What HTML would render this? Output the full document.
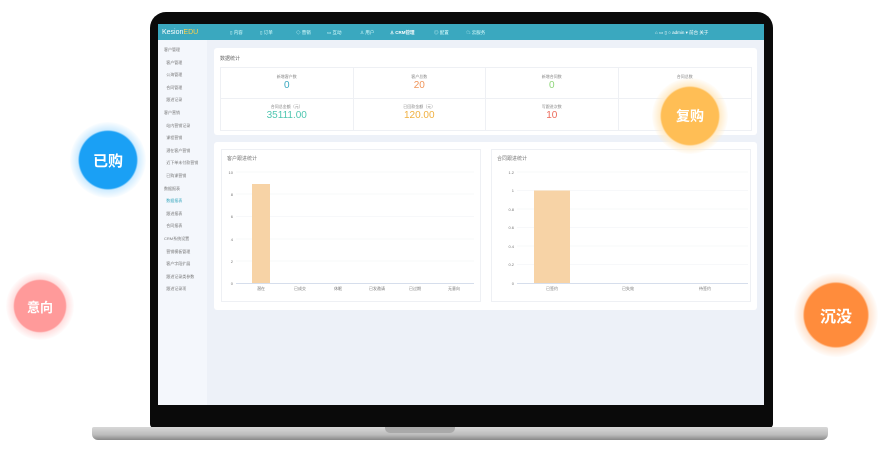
<!DOCTYPE html><html><head><meta charset="utf-8"><style>
*{margin:0;padding:0;box-sizing:border-box}
body{width:892px;height:452px;background:#fff;position:relative;overflow:hidden;font-family:"Liberation Sans","Noto Sans CJK SC",sans-serif}
.a{position:absolute}
.t{font-size:4px;color:#888;white-space:nowrap}
.n{position:absolute;top:30px;font-size:4.5px;color:#dff;white-space:nowrap}
.bub{position:absolute;border-radius:50%;color:#fff;font-weight:bold;display:flex;align-items:center;justify-content:center}
</style></head><body>
<div class="a" style="left:150px;top:12px;width:623px;height:416px;background:#0a0a0a;border-radius:16px 16px 4px 4px"></div>
<div class="a" style="left:158px;top:24px;width:606px;height:381px;background:#edf1f8"></div>
<div class="a" style="left:158px;top:24px;width:606px;height:16px;background:#3aa8bf"></div>
<div class="a" style="left:162px;top:29px;font-size:7px;color:#fff">Kesion<span style="color:#ffd24a">EDU</span></div>
<div class="n" style="left:230px">▯ 内容</div><div class="n" style="left:260px">▯ 订单</div><div class="n" style="left:296px">◇ 营销</div><div class="n" style="left:327px">▭ 互动</div><div class="n" style="left:360px">♙ 用户</div><div class="n" style="left:390px;color:#fff;font-weight:bold">♙ CRM管理</div><div class="n" style="left:434px">◎ 配置</div><div class="n" style="left:466px">☁ 云服务</div>
<div class="a t" style="left:655px;top:30px;color:#fff;font-size:4.5px">⌂ ▭ ▯ ○ admin ▾ 前台 关于</div>
<div class="a" style="left:158px;top:40px;width:49px;height:365px;background:#f4f7fc"></div>
<div class="a" style="left:164px;top:44px;font-size:4px;color:#777;line-height:12.6px">客户管理<br>&nbsp;&nbsp;客户管理<br>&nbsp;&nbsp;公海管理<br>&nbsp;&nbsp;合同管理<br>&nbsp;&nbsp;跟进记录<br>客户营销<br>&nbsp;&nbsp;站内营销记录<br>&nbsp;&nbsp;课程营销<br>&nbsp;&nbsp;潜在客户营销<br>&nbsp;&nbsp;近下单未付款营销<br>&nbsp;&nbsp;已购课营销<br>数据报表<br>&nbsp;&nbsp;<span style="color:#3aa8bf">数据报表</span><br>&nbsp;&nbsp;跟进报表<br>&nbsp;&nbsp;合同报表<br>CRM系统设置<br>&nbsp;&nbsp;营销模板管理<br>&nbsp;&nbsp;客户字段扩展<br>&nbsp;&nbsp;跟进记录类参数<br>&nbsp;&nbsp;跟进记录项</div>
<div class="a" style="left:214px;top:48px;width:543px;height:87px;background:#fff;border-radius:3px"></div>
<div class="a t" style="left:220px;top:55px;font-size:5px;color:#666">数据统计</div>
<div class="a" style="left:220px;top:67px;width:532px;height:64px;border:1px solid #eef0f4;display:grid;grid-template-columns:repeat(4,1fr);grid-template-rows:1fr 1fr">
<div style="text-align:center;border-right:1px solid #eef0f4;border-bottom:1px solid #eef0f4"><div class="t" style="margin-top:6px">新增客户数</div><div style="font-size:10px;color:#3aa8bf">0</div></div>
<div style="text-align:center;border-right:1px solid #eef0f4;border-bottom:1px solid #eef0f4"><div class="t" style="margin-top:6px">客户总数</div><div style="font-size:10px;color:#f0955a">20</div></div>
<div style="text-align:center;border-right:1px solid #eef0f4;border-bottom:1px solid #eef0f4"><div class="t" style="margin-top:6px">新增合同数</div><div style="font-size:10px;color:#8fd67a">0</div></div>
<div style="text-align:center;border-bottom:1px solid #eef0f4"><div class="t" style="margin-top:6px">合同总数</div></div>
<div style="text-align:center;border-right:1px solid #eef0f4"><div class="t" style="margin-top:5px">合同总金额（元）</div><div style="font-size:10px;color:#4fc6b0">35111.00</div></div>
<div style="text-align:center;border-right:1px solid #eef0f4"><div class="t" style="margin-top:5px">已回款金额（元）</div><div style="font-size:10px;color:#f0b040">120.00</div></div>
<div style="text-align:center;border-right:1px solid #eef0f4"><div class="t" style="margin-top:5px">写跟进次数</div><div style="font-size:10px;color:#ec6a5a">10</div></div>
<div></div></div>
<div class="a" style="left:214px;top:142px;width:543px;height:168px;background:#fff;border-radius:3px"></div>
<svg class="a" style="left:0;top:0" width="892" height="452">
<g fill="none" stroke="#eef0f4"><rect x="221.5" y="149.5" width="259" height="152"/><rect x="491.5" y="149.5" width="259" height="152"/></g>
<g stroke="#f0f2f6" stroke-width="0.6">
<line x1="236" x2="474" y1="172" y2="172"/><line x1="236" x2="474" y1="194" y2="194"/><line x1="236" x2="474" y1="216.5" y2="216.5"/><line x1="236" x2="474" y1="239" y2="239"/><line x1="236" x2="474" y1="261" y2="261"/>
<line x1="517" x2="748" y1="172" y2="172"/><line x1="517" x2="748" y1="190.5" y2="190.5"/><line x1="517" x2="748" y1="209" y2="209"/><line x1="517" x2="748" y1="227.5" y2="227.5"/><line x1="517" x2="748" y1="246" y2="246"/><line x1="517" x2="748" y1="264.5" y2="264.5"/>
</g>
<line x1="236" x2="474" y1="283.5" y2="283.5" stroke="#c9d3e6" stroke-width="0.8"/>
<line x1="517" x2="748" y1="283.5" y2="283.5" stroke="#c9d3e6" stroke-width="0.8"/>
<rect x="252" y="184" width="18" height="99" fill="#f7d3a6"/>
<rect x="534" y="190.5" width="36" height="92.5" fill="#f7d3a6"/>
<g font-size="4" fill="#777" font-family="Liberation Sans,Noto Sans CJK SC,sans-serif">
<text x="227" y="160" font-size="5">客户跟进统计</text><text x="497" y="160" font-size="5">合同跟进统计</text>
<g text-anchor="end"><text x="233" y="174">10</text><text x="233" y="196">8</text><text x="233" y="218">6</text><text x="233" y="241">4</text><text x="233" y="263">2</text><text x="233" y="285">0</text>
<text x="514" y="174">1.2</text><text x="514" y="192">1</text><text x="514" y="211">0.8</text><text x="514" y="229">0.6</text><text x="514" y="248">0.4</text><text x="514" y="266">0.2</text><text x="514" y="285">0</text></g>
<g text-anchor="middle"><text x="261" y="290">潜在</text><text x="300" y="290">已成交</text><text x="338" y="290">休眠</text><text x="377" y="290">已发邀请</text><text x="415" y="290">已过期</text><text x="454" y="290">无意向</text>
<text x="552" y="290">已签约</text><text x="628" y="290">已失效</text><text x="705" y="290">待签约</text></g></g>
</svg>
<div class="a" style="left:92px;top:427px;width:736px;height:13px;background:linear-gradient(#d8d8d8,#bcbcbc 60%,#888);border-radius:2px 2px 6px 6px"></div>
<div class="a" style="top:427px;width:70px;height:6px;background:#a9a9a9;border-radius:0 0 5px 5px;left:385px"></div>
<div class="bub" style="left:70px;top:122px;width:76px;height:76px;background:radial-gradient(#1aa0f5 53%,#d0ecff 56%,rgba(255,255,255,0) 72%);font-size:15px">已购</div>
<div class="bub" style="left:6px;top:272px;width:68px;height:68px;background:radial-gradient(#ff9a9a 53%,#ffe0e0 56%,rgba(255,255,255,0) 72%);font-size:13px">意向</div>
<div class="bub" style="left:652px;top:78px;width:76px;height:76px;background:radial-gradient(#ffbe55 53%,#ffeccc 56%,rgba(255,255,255,0) 72%);font-size:14px">复购</div>
<div class="bub" style="left:794px;top:273px;width:84px;height:84px;background:radial-gradient(#ff8c3c 53%,#ffe4d0 56%,rgba(255,255,255,0) 72%);font-size:16px">沉没</div>
</body></html>
